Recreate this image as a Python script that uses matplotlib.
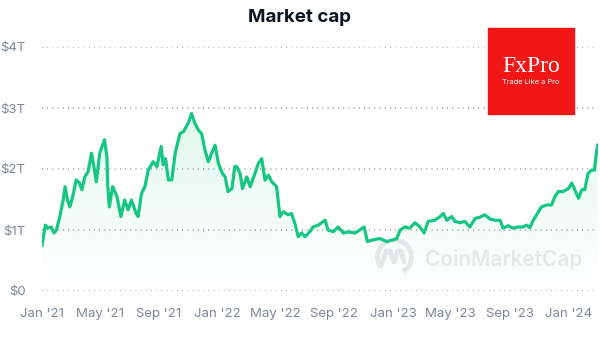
import numpy as np
import pandas as pd
import matplotlib
matplotlib.use("Agg")
import matplotlib.pyplot as plt
import matplotlib.dates as mdates
from matplotlib.patches import Rectangle, Arc
from matplotlib.lines import Line2D
from matplotlib.ticker import FuncFormatter

# market cap, trillions of USD
dates = [
    "2021-01-01", "2021-01-08", "2021-01-13", "2021-01-20", "2021-01-26", "2021-01-31",
    "2021-02-07", "2021-02-14", "2021-02-18", "2021-02-23", "2021-02-28", "2021-03-06",
    "2021-03-13", "2021-03-20", "2021-03-25", "2021-03-31", "2021-04-07", "2021-04-14",
    "2021-04-19", "2021-04-24", "2021-05-01", "2021-05-11", "2021-05-16", "2021-05-18",
    "2021-05-21", "2021-05-28", "2021-06-06", "2021-06-14", "2021-06-22", "2021-06-29",
    "2021-07-06", "2021-07-16", "2021-07-20", "2021-07-27", "2021-08-03", "2021-08-10",
    "2021-08-20", "2021-08-28", "2021-09-06", "2021-09-10", "2021-09-15", "2021-09-21",
    "2021-09-28", "2021-10-05", "2021-10-15", "2021-10-22", "2021-11-01", "2021-11-08",
    "2021-11-15", "2021-11-22", "2021-11-29", "2021-12-06", "2021-12-13", "2021-12-20",
    "2021-12-27", "2022-01-03", "2022-01-11", "2022-01-17", "2022-01-23", "2022-01-31",
    "2022-02-06", "2022-02-10", "2022-02-17", "2022-02-22", "2022-03-03", "2022-03-10",
    "2022-03-20", "2022-03-27", "2022-04-03", "2022-04-10", "2022-04-17", "2022-04-24",
    "2022-05-04", "2022-05-11", "2022-05-18", "2022-05-28", "2022-06-04", "2022-06-11",
    "2022-06-18", "2022-06-25", "2022-07-02", "2022-07-12", "2022-07-19", "2022-07-30",
    "2022-08-13", "2022-08-19", "2022-08-30", "2022-09-09", "2022-09-20", "2022-09-30",
    "2022-10-14", "2022-10-24", "2022-11-02", "2022-11-09", "2022-11-21", "2022-12-05",
    "2022-12-19", "2023-01-02", "2023-01-09", "2023-01-16", "2023-01-26", "2023-02-05",
    "2023-02-16", "2023-02-26", "2023-03-07", "2023-03-15", "2023-03-29", "2023-04-09",
    "2023-04-16", "2023-04-23", "2023-05-03", "2023-05-10", "2023-05-20", "2023-05-31",
    "2023-06-10", "2023-06-21", "2023-07-01", "2023-07-11", "2023-07-22", "2023-08-01",
    "2023-08-12", "2023-08-18", "2023-08-29", "2023-09-08", "2023-09-19", "2023-09-29",
    "2023-10-06", "2023-10-13", "2023-10-20", "2023-10-27", "2023-11-06", "2023-11-17",
    "2023-11-27", "2023-12-04", "2023-12-11", "2023-12-21", "2024-01-01", "2024-01-08",
    "2024-01-16", "2024-01-22", "2024-01-29", "2024-02-04", "2024-02-11", "2024-02-18",
    "2024-02-24", "2024-02-29", "2024-03-02",
]
mcap = [
    0.75, 1.08, 1.03, 1.05, 0.95, 1.00,
    1.22, 1.49, 1.71, 1.49, 1.38, 1.55,
    1.82, 1.77, 1.66, 1.87, 1.96, 2.26,
    2.04, 1.79, 2.26, 2.48, 2.20, 1.71,
    1.38, 1.71, 1.55, 1.22, 1.49, 1.33,
    1.49, 1.27, 1.22, 1.60, 1.71, 1.98,
    2.12, 2.04, 2.37, 2.07, 2.17, 1.82,
    1.82, 2.26, 2.58, 2.61, 2.75, 2.91,
    2.75, 2.64, 2.58, 2.31, 2.12, 2.26,
    2.39, 2.09, 1.93, 1.87, 1.63, 1.68,
    2.04, 2.04, 1.93, 1.68, 1.87, 1.71,
    1.93, 2.09, 2.17, 1.82, 1.90, 1.79,
    1.71, 1.22, 1.30, 1.25, 1.27, 1.11,
    0.89, 0.95, 0.89, 0.97, 1.05, 1.08,
    1.16, 1.00, 0.97, 1.05, 0.95, 0.97,
    0.95, 1.00, 1.05, 0.81, 0.84, 0.86,
    0.81, 0.84, 0.86, 1.00, 1.05, 1.03,
    1.12, 1.05, 0.95, 1.14, 1.16, 1.22,
    1.27, 1.16, 1.22, 1.14, 1.12, 1.14,
    1.05, 1.19, 1.21, 1.25, 1.18, 1.16,
    1.16, 1.03, 1.07, 1.03, 1.05, 1.05,
    1.08, 1.04, 1.16, 1.25, 1.38, 1.41,
    1.41, 1.55, 1.63, 1.63, 1.68, 1.77,
    1.63, 1.52, 1.66, 1.66, 1.93, 1.98,
    1.98, 2.31, 2.39,
]
tick_dates = ["2021-01-01", "2021-05-01", "2021-09-01", "2022-01-01", "2022-05-01",
              "2022-09-01", "2023-01-01", "2023-05-01", "2023-09-01", "2024-01-01"]
yticks = [0, 1, 2, 3, 4]

GREEN = "#16c784"
GREY = "#7d8699"

plt.rcParams['font.family'] = ['Inter', 'DejaVu Sans']

x = pd.to_datetime(dates)
xd = mdates.date2num(x)

fig = plt.figure(figsize=(6, 3.38), dpi=100)
ax = fig.add_axes([0.07, 1 - 291 / 338, 0.927, (291 - 47) / 338])
ax.patch.set_visible(False)

x0 = mdates.date2num(pd.Timestamp("2021-01-01"))
x1 = mdates.date2num(pd.Timestamp("2024-03-03"))
ax.set_xlim(x0, x1)
ax.set_ylim(0, 4)

# gradient under the line
grad = np.zeros((256, 1, 4))
grad[:, 0, :3] = matplotlib.colors.to_rgb(GREEN)
grad[:, 0, 3] = np.linspace(0.0, 0.13, 256)
img = ax.imshow(grad, aspect="auto", origin="lower",
                extent=[x0, x1, 0, 3.0], zorder=1)
poly = ax.fill_between(xd, mcap, 0, color="none")
clip = poly.get_paths()[0]
img.set_clip_path(clip, transform=ax.transData)

ax.plot(xd, mcap, color=GREEN, lw=2.3, solid_joinstyle="round", zorder=3)

for v in yticks:
    ax.axhline(v, color="#8a8f99", lw=1.1, ls=(0, (0.6, 2.8)), zorder=0)

ax.set_yticks(yticks)
ax.yaxis.set_major_formatter(FuncFormatter(lambda v, p: "$0" if v == 0 else f"${int(v)}T"))
ax.set_xticks(mdates.date2num(pd.to_datetime(tick_dates)))
ax.xaxis.set_major_formatter(mdates.DateFormatter("%b '%y"))
ax.tick_params(axis="both", length=0, labelsize=9.5, labelcolor=GREY)
ax.tick_params(axis="y", pad=12)
ax.tick_params(axis="x", pad=12)
for s in ax.spines.values():
    s.set_visible(False)

fig.text(0.5, 1 - 17 / 338, "Market cap", ha="center", va="center",
         fontsize=13.5, fontweight="bold", color="#0d1421")

# FxPro badge
fig.patches.append(Rectangle((488 / 600, 1 - 114 / 338), 86 / 600, 86 / 338,
                             transform=fig.transFigure, color="#f21616", zorder=5))
fig.text(531 / 600, 1 - 66 / 338, "FxPro", ha="center", va="center", color="white",
         fontsize=17, family="Liberation Serif", zorder=6)
fig.text(531 / 600, 1 - 82 / 338, "Trade Like a Pro", ha="center", va="center",
         color="white", fontsize=5.3, zorder=6)

# CoinMarketCap watermark, behind the chart
wm = "#e8e9ec"
fig.text(425 / 600, 1 - 259 / 338, "CoinMarketCap", ha="left", va="center",
         color=wm, fontsize=15, fontweight="semibold", zorder=-1)
H = 338
fig.patches.append(Arc((394.5, H - 257), 34, 34, theta1=-60, theta2=215, transform=None,
                       ec=wm, lw=3.5, zorder=-1))
fig.lines.append(Line2D([381, 386, 390, 394, 398, 401, 404], [H - 266, H - 251, H - 251, H - 262, H - 251, H - 251, H - 262],
                        transform=None, color=wm, lw=3.5, solid_joinstyle="round",
                        solid_capstyle="round", zorder=-1))

fig.savefig("out.png", dpi=100)
